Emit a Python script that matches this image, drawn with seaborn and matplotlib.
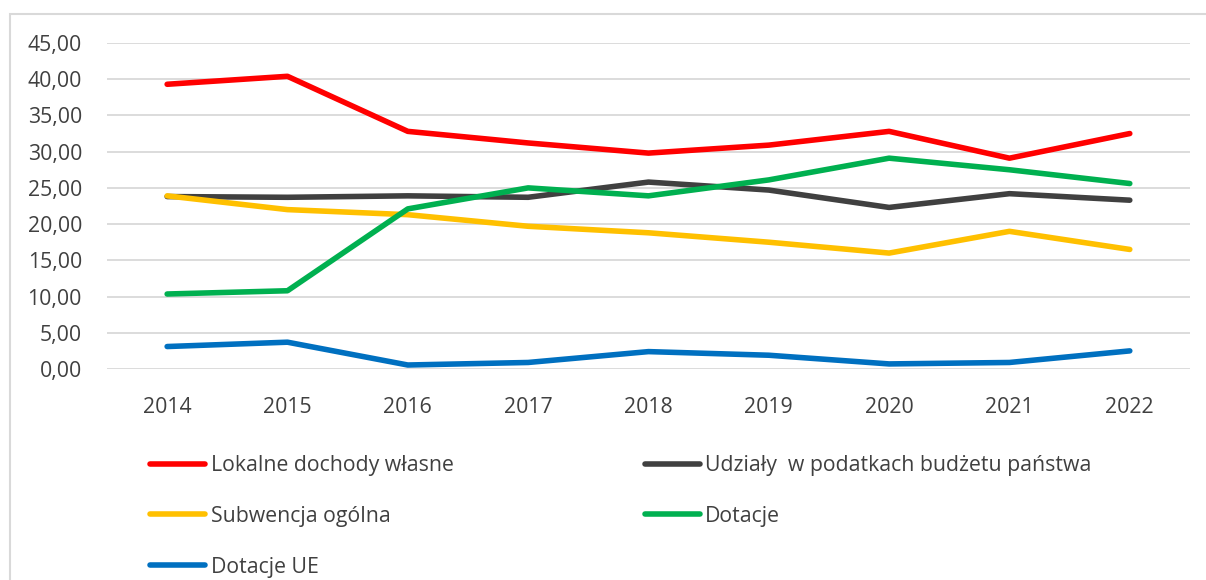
"""Struktura dochodów - wykres liniowy."""

import matplotlib

matplotlib.use("Agg")
import matplotlib.pyplot as plt
import pandas as pd
import seaborn as sns
from matplotlib.patches import Rectangle
from matplotlib.ticker import FuncFormatter

# Dane (%)
years = [2014, 2015, 2016, 2017, 2018, 2019, 2020, 2021, 2022]
lokalne = [39.3, 40.4, 32.8, 31.2, 29.8, 30.9, 32.8, 29.1, 32.5]
udzialy = [23.8, 23.7, 23.9, 23.7, 25.8, 24.7, 22.3, 24.2, 23.3]
subwencja = [23.9, 22.0, 21.3, 19.7, 18.8, 17.5, 16.0, 19.0, 16.5]
dotacje = [10.35, 10.8, 22.1, 25.0, 23.9, 26.1, 29.1, 27.5, 25.6]
dotacje_ue = [3.1, 3.7, 0.55, 0.9, 2.4, 1.9, 0.7, 0.9, 2.5]

series_names = [
    "Lokalne dochody własne",
    "Udziały  w podatkach budżetu państwa",
    "Subwencja ogólna",
    "Dotacje",
    "Dotacje UE",
]
colors = ["#FF0000", "#404040", "#FFC000", "#00B050", "#0070C0"]
y_ticks = [0, 5, 10, 15, 20, 25, 30, 35, 40, 45]

df = pd.DataFrame(
    {
        "Rok": years,
        series_names[0]: lokalne,
        series_names[1]: udzialy,
        series_names[2]: subwencja,
        series_names[3]: dotacje,
        series_names[4]: dotacje_ue,
    }
).melt(id_vars="Rok", var_name="Seria", value_name="Wartość")

# Styl
sns.set_style("white")
plt.rcParams["font.family"] = ["Open Sans", "DejaVu Sans"]
text_color = "#404040"
font_size = 15.3

fig = plt.figure(figsize=(12.06, 5.8), dpi=100)
ax = fig.add_axes([0.0887, 0.3638, 0.898, 0.5621])

sns.lineplot(
    data=df,
    x="Rok",
    y="Wartość",
    hue="Seria",
    hue_order=series_names,
    palette=dict(zip(series_names, colors)),
    linewidth=4.0,
    legend=False,
    ax=ax,
)
for line in ax.get_lines():
    line.set_solid_capstyle("round")
    line.set_solid_joinstyle("round")

ax.set_xlim(2013.5, 2022.5)
ax.set_ylim(0, 45)
ax.set_xticks(years)
ax.set_yticks(y_ticks)
ax.yaxis.set_major_formatter(FuncFormatter(lambda v, _: f"{v:.2f}".replace(".", ",")))
ax.grid(axis="y", color="#D9D9D9", linewidth=1.3)
ax.set_axisbelow(True)
for spine in ax.spines.values():
    spine.set_visible(False)
ax.tick_params(axis="both", length=0, labelsize=font_size, colors=text_color)
ax.tick_params(axis="x", pad=20)
ax.tick_params(axis="y", pad=18)
ax.set_xlabel("")
ax.set_ylabel("")

# Legenda: kolejność wierszami jak w oryginale
lines = ax.get_lines()[: len(series_names)]
order = [0, 2, 4, 1, 3]
leg = fig.legend(
    [lines[i] for i in order],
    [series_names[i] for i in order],
    loc="upper left",
    bbox_to_anchor=(150 / 1206, 1 - 455 / 580),
    ncol=2,
    frameon=False,
    fontsize=font_size,
    handlelength=2.6,
    handletextpad=0.25,
    columnspacing=9.0,
    labelspacing=1.4,
    borderpad=0,
    borderaxespad=0,
)
for txt in leg.get_texts():
    txt.set_color(text_color)

# Ramka obszaru wykresu
fig.patches.append(
    Rectangle(
        (10 / 1206, -0.5),
        2,
        0.5 + 566 / 580,
        transform=fig.transFigure,
        fill=False,
        edgecolor="#D9D9D9",
        linewidth=1.5,
    )
)

fig.savefig("out.png", dpi=100)
